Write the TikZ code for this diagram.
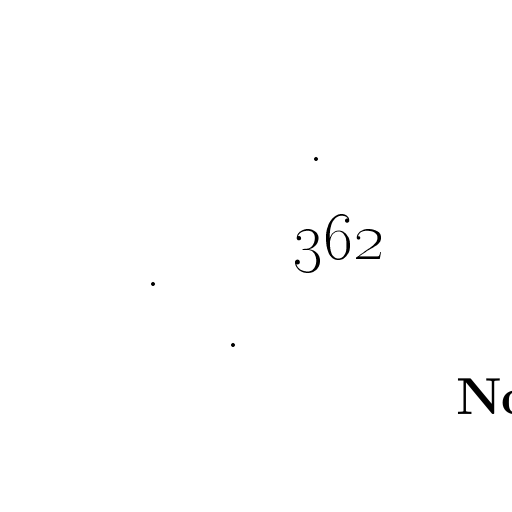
\documentclass[tikz,border=0pt]{standalone}
\begin{document}
\begin{tikzpicture}[x=1pt,y=1pt]
% définition des styles
\tikzstyle{point}=[circle,fill=black,inner sep=0pt,minimum size=4pt]
\tikzstyle{texte}=[inner sep=0pt,anchor=base west]
% le cadre
\useasboundingbox (0,0) rectangle (512,512);
\clip (0,0) rectangle (512,512);
% les nœuds
\node[texte,scale=1.92] (page) at (292,252) {\fontsize{62}{62}\selectfont\oldstylenums{362}};
\node[texte] (numero) at (456,97) {\fontsize{52}{52}\selectfont\bfseries No};
% les points
\node[point] (p1) at (316,353) {};
\node[point] (p2) at (153,228) {};
\node[point] (p3) at (233,167) {};
\end{tikzpicture}
\end{document}
